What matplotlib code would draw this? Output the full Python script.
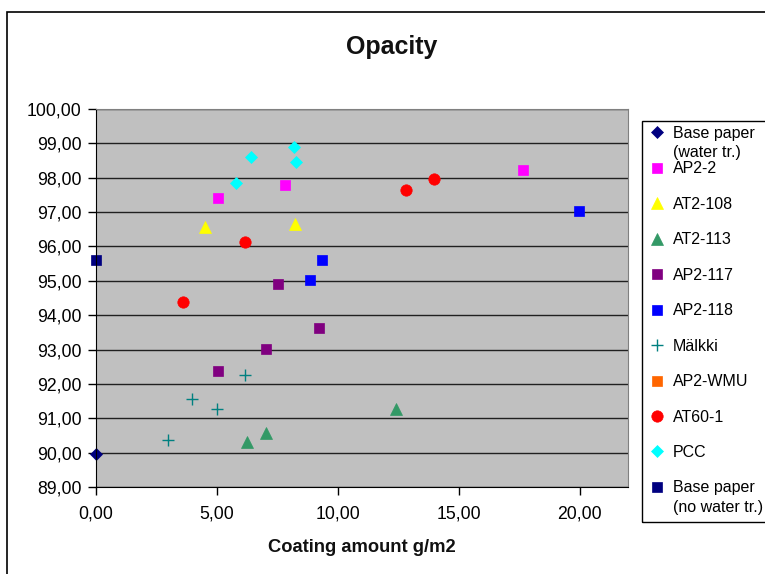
import matplotlib
matplotlib.use('Agg')
import matplotlib.pyplot as plt
from matplotlib.patches import Rectangle
from matplotlib.ticker import FuncFormatter, MultipleLocator

plt.rcParams['font.family'] = ['Liberation Sans', 'DejaVu Sans']

# data: coating amount (g/m2), opacity (%)
base_water_x = [0.0]
base_water_y = [89.97]
ap2_2_x = [5.03, 7.80, 17.65]
ap2_2_y = [97.40, 97.80, 98.23]
at2_108_x = [4.49, 8.22]
at2_108_y = [96.56, 96.65]
at2_113_x = [6.24, 7.01, 12.41]
at2_113_y = [90.32, 90.58, 91.27]
ap2_117_x = [5.03, 7.01, 7.53, 9.21]
ap2_117_y = [92.37, 93.02, 94.90, 93.62]
ap2_118_x = [8.86, 9.33, 19.97]
ap2_118_y = [95.01, 95.61, 97.03]
malkki_x = [2.99, 3.97, 5.01, 6.18]
malkki_y = [90.37, 91.57, 91.28, 92.25]
ap2_wmu_x = []
ap2_wmu_y = []
at60_1_x = [3.61, 6.18, 12.82, 13.98]
at60_1_y = [94.39, 96.12, 97.65, 97.95]
pcc_x = [5.81, 6.39, 8.17, 8.28]
pcc_y = [97.85, 98.60, 98.90, 98.46]
base_nowater_x = [0.0]
base_nowater_y = [95.61]

series = [
    ('Base paper', base_water_x, base_water_y, 'D', '#000080', 6.5),
    ('AP2-2', ap2_2_x, ap2_2_y, 's', '#FF00FF', 7.8),
    ('AT2-108', at2_108_x, at2_108_y, '^', '#FFFF00', 8),
    ('AT2-113', at2_113_x, at2_113_y, '^', '#339966', 8),
    ('AP2-117', ap2_117_x, ap2_117_y, 's', '#800080', 7.8),
    ('AP2-118', ap2_118_x, ap2_118_y, 's', '#0000FF', 7.8),
    ('Mälkki', malkki_x, malkki_y, '+', '#008080', 8.5),
    ('AP2-WMU', ap2_wmu_x, ap2_wmu_y, 's', '#FF6600', 7.8),
    ('AT60-1', at60_1_x, at60_1_y, 'o', '#FF0000', 8.2),
    ('PCC', pcc_x, pcc_y, 'D', '#00FFFF', 6.5),
    ('Base paper', base_nowater_x, base_nowater_y, 's', '#000080', 7.8),
]

fig = plt.figure(figsize=(7.65, 5.74), dpi=100)
W, H = 765.0, 574.0
ax = fig.add_axes([96 / W, 1 - 487 / H, (628 - 96) / W, (487 - 109) / H])
ax.set_facecolor('#C0C0C0')

handles = []
for name, xs, ys, mk, col, ms in series:
    h, = ax.plot(xs, ys, linestyle='none', marker=mk, color=col,
                 markersize=ms, markeredgecolor=col,
                 markeredgewidth=1.0 if mk == '+' else 0.5, clip_on=False)
    handles.append(h)

ax.set_xlim(0, 22)
ax.set_ylim(89, 100)
ax.yaxis.set_major_locator(MultipleLocator(1))
comma = FuncFormatter(lambda v, p: ('%.2f' % v).replace('.', ','))
ax.xaxis.set_major_formatter(comma)
ax.yaxis.set_major_formatter(comma)
ax.set_xticks([0, 5, 10, 15, 20])
ax.tick_params(direction='out', length=5.5, width=1, labelsize=12.7, pad=5)
ax.tick_params(axis='x', pad=8)
ax.yaxis.grid(True, color='#202020', linewidth=1.0)
ax.set_axisbelow(True)
for s in ['top', 'right']:
    ax.spines[s].set_color('#808080')
for s in ['left', 'bottom']:
    ax.spines[s].set_color('black')

fig.text(392 / W, 1 - 47 / H, 'Opacity', ha='center', va='center',
         fontsize=18, fontweight='bold', color='#111111')
ax.set_xlabel('Coating amount g/m2', fontsize=13.2, fontweight='bold',
              labelpad=12, color='#111111')

# outer chart border
fig.add_artist(Rectangle((7 / W, -0.05), 1.0, 1 - 12 / H + 0.05,
                         transform=fig.transFigure, fill=False,
                         edgecolor='black', linewidth=1.2))

# legend
labels = [s[0] for s in series]
leg = fig.legend(handles, labels, loc='upper left',
                 bbox_to_anchor=(651 / W, 1 - 126 / H), frameon=False,
                 fontsize=11.5, handlelength=0.8, handletextpad=0.55,
                 labelspacing=1.28, borderaxespad=0, borderpad=0)
fig.add_artist(Rectangle((642 / W, 1 - 522 / H), 0.5, (522 - 121) / H,
                         transform=fig.transFigure, fill=False,
                         edgecolor='black', linewidth=1.0))
texts = leg.get_texts()
for t, extra in [(texts[0], '(water tr.)'), (texts[-1], '(no water tr.)')]:
    ann = plt.Annotation(extra, xy=(0, 0), xycoords=t,
                         xytext=(0, -3), textcoords='offset points',
                         va='top', ha='left', fontsize=11.5,
                         annotation_clip=False)
    ann.set_zorder(10)
    fig.add_artist(ann)

fig.savefig('out.png', dpi=100)
